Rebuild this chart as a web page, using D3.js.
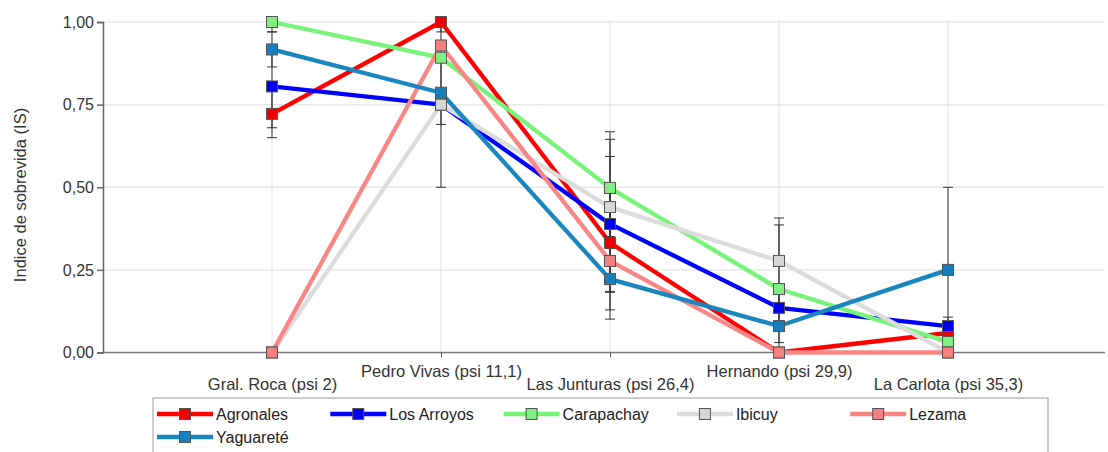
<!DOCTYPE html>
<html>
<head>
<meta charset="utf-8">
<script src="https://cdn.jsdelivr.net/npm/d3@7"></script>
<style>
  html, body { margin: 0; padding: 0; background: #fff; }
  svg { display: block; font-family: "Liberation Sans", Arial, sans-serif; }
</style>
</head>
<body>
<svg id="chart" width="1108" height="452"></svg>
<script>
// ---- data ----
const categories = ["Gral. Roca (psi 2)", "Pedro Vivas (psi 11,1)", "Las Junturas (psi 26,4)", "Hernando (psi 29,9)", "La Carlota (psi 35,3)"];
const seriesNames = ["Agronales", "Los Arroyos", "Carapachay", "Ibicuy", "Lezama", "Yaguareté"];
const agronales  = [0.722, 1.00, 0.332, 0.00, 0.059];
const losArroyos = [0.805, 0.75, 0.389, 0.135, 0.08];
const carapachay = [1.00, 0.892, 0.498, 0.192, 0.032];
const ibicuy     = [0.00, 0.75, 0.44, 0.277, 0.00];
const lezama     = [0.00, 0.929, 0.277, 0.00, 0.00];
const yaguarete  = [0.917, 0.786, 0.222, 0.08, 0.25];
// +/- error
const errAgronales  = [0.072, 0.03, 0.15, 0, 0];
const errLosArroyos = [0.125, 0, 0.204, 0.055, 0.027];
const errCarapachay = [0.03, 0, 0.147, 0.194, 0];
const errIbicuy     = [0, 0.25, 0.228, 0.13, 0];
const errLezama     = [0, 0, 0.176, 0, 0];
const errYaguarete  = [0.053, 0.096, 0.093, 0.05, 0.25];
const yTicks = [0, 0.25, 0.5, 0.75, 1.0];
const yTitle = "Indice de sobrevida (IS)";

// ---- styles ----
const lineColors   = ["#ff0000", "#0000ff", "#77f377", "#dcdcdc", "#fa8585", "#1a86c0"];
const markerColors = ["#ee0000", "#0000ee", "#80ee80", "#d6d6d6", "#f48080", "#1580bb"];

const values = [agronales, losArroyos, carapachay, ibicuy, lezama, yaguarete];
const errors = [errAgronales, errLosArroyos, errCarapachay, errIbicuy, errLezama, errYaguarete];
const series = seriesNames.map((name, k) => ({
  name, color: lineColors[k], fill: markerColors[k],
  points: values[k].map((v, i) => ({ i, v, e: errors[k][i] }))
}));

const svg = d3.select("#chart");
const pLeft = 103, pRight = 1105, pTop = 22, pBottom = 352.5;

const x = d3.scaleLinear().domain([-1, 4.929]).range([pLeft, pRight]);
const y = d3.scaleLinear().domain([0, 1]).range([pBottom, pTop]);

// grid
const grid = svg.append("g");
grid.selectAll("line.h").data(yTicks.filter(t => t > 0)).join("line")
  .attr("x1", pLeft).attr("x2", pRight)
  .attr("y1", d => y(d)).attr("y2", d => y(d))
  .attr("stroke", "#e8e8e8").attr("stroke-width", 1.5);
grid.selectAll("line.v").data(categories.map((c, i) => i)).join("line")
  .attr("x1", d => x(d)).attr("x2", d => x(d))
  .attr("y1", pTop - 2).attr("y2", pBottom)
  .attr("stroke", "#e3e3e3").attr("stroke-width", 1);

// y axis
const yAxis = svg.append("g").attr("transform", `translate(${pLeft},0)`)
  .call(d3.axisLeft(y).tickValues(yTicks).tickSize(6).tickPadding(3)
    .tickFormat(d => d3.format(".2f")(d).replace(".", ",")));
yAxis.select(".domain").attr("stroke", "#666").attr("stroke-width", 1.5);
yAxis.selectAll(".tick line").attr("stroke", "#666").attr("stroke-width", 1.5);
yAxis.selectAll(".tick text").attr("font-size", 16).attr("fill", "#333")
  .attr("font-family", "Liberation Sans, Arial, sans-serif");

// x axis
const xAxis = svg.append("g").attr("transform", `translate(0,${pBottom})`)
  .call(d3.axisBottom(x).tickValues(categories.map((c, i) => i)).tickSize(5).tickSizeOuter(0)
    .tickFormat(i => categories[i]));
xAxis.select(".domain").attr("d", `M${pLeft},0H${pRight}`).attr("stroke", "#777").attr("stroke-width", 1.5);
xAxis.selectAll(".tick line").attr("stroke", "#555").attr("stroke-width", 1);
xAxis.selectAll(".tick text").attr("font-size", 16.5).attr("fill", "#333")
  .attr("font-family", "Liberation Sans, Arial, sans-serif")
  .attr("dy", null).attr("dominant-baseline", "central")
  .attr("y", (d, i) => i % 2 === 0 ? 31 : 18);

// y title
svg.append("text")
  .attr("transform", "translate(20,195) rotate(-90)")
  .attr("text-anchor", "middle").attr("dominant-baseline", "central")
  .attr("font-size", 16.5).attr("fill", "#333").text(yTitle);

// lines
const line = d3.line().x(d => x(d.i)).y(d => y(d.v));
svg.append("g").selectAll("path").data(series).join("path")
  .attr("d", d => line(d.points)).attr("fill", "none")
  .attr("stroke", d => d.color).attr("stroke-width", 4.3).attr("stroke-linejoin", "round");

// error bars
const eb = svg.append("g").attr("stroke", "#333").attr("stroke-width", 1);
const clamp = v => Math.max(0, Math.min(1, v));
series.forEach(s => {
  s.points.filter(p => p.e > 0).forEach(p => {
    const lo = clamp(p.v - p.e), hi = clamp(p.v + p.e), cx = x(p.i);
    eb.append("line").attr("x1", cx).attr("x2", cx).attr("y1", y(lo)).attr("y2", y(hi));
    eb.append("line").attr("x1", cx - 5).attr("x2", cx + 5).attr("y1", y(lo)).attr("y2", y(lo));
    eb.append("line").attr("x1", cx - 5).attr("x2", cx + 5).attr("y1", y(hi)).attr("y2", y(hi));
  });
});

// markers
const ms = 11;
svg.append("g").selectAll("g").data(series).join("g")
  .each(function (s) {
    d3.select(this).selectAll("rect").data(s.points).join("rect")
      .attr("x", d => x(d.i) - ms / 2).attr("y", d => y(d.v) - ms / 2)
      .attr("width", ms).attr("height", ms)
      .attr("fill", s.fill).attr("stroke", "#555").attr("stroke-width", 1);
  });

// legend
const legend = svg.append("g");
legend.append("rect").attr("x", 153).attr("y", 398).attr("width", 895).attr("height", 80)
  .attr("fill", "#fff").attr("stroke", "#999").attr("stroke-width", 1);
const colW = 173.3, lx0 = 157, rowY = [414, 437];
series.forEach((s, k) => {
  const col = k % 5, row = Math.floor(k / 5);
  const gx = lx0 + col * colW, gy = rowY[row];
  const g = legend.append("g");
  g.append("line").attr("x1", gx).attr("x2", gx + 56).attr("y1", gy).attr("y2", gy)
    .attr("stroke", s.color).attr("stroke-width", 4.3);
  g.append("rect").attr("x", gx + 28 - ms / 2).attr("y", gy - ms / 2).attr("width", ms).attr("height", ms)
    .attr("fill", s.fill).attr("stroke", "#555").attr("stroke-width", 1);
  g.append("text").attr("x", gx + 59).attr("y", gy).attr("dominant-baseline", "central")
    .attr("font-size", 16).attr("fill", "#222").text(s.name);
});
</script>
</body>
</html>
